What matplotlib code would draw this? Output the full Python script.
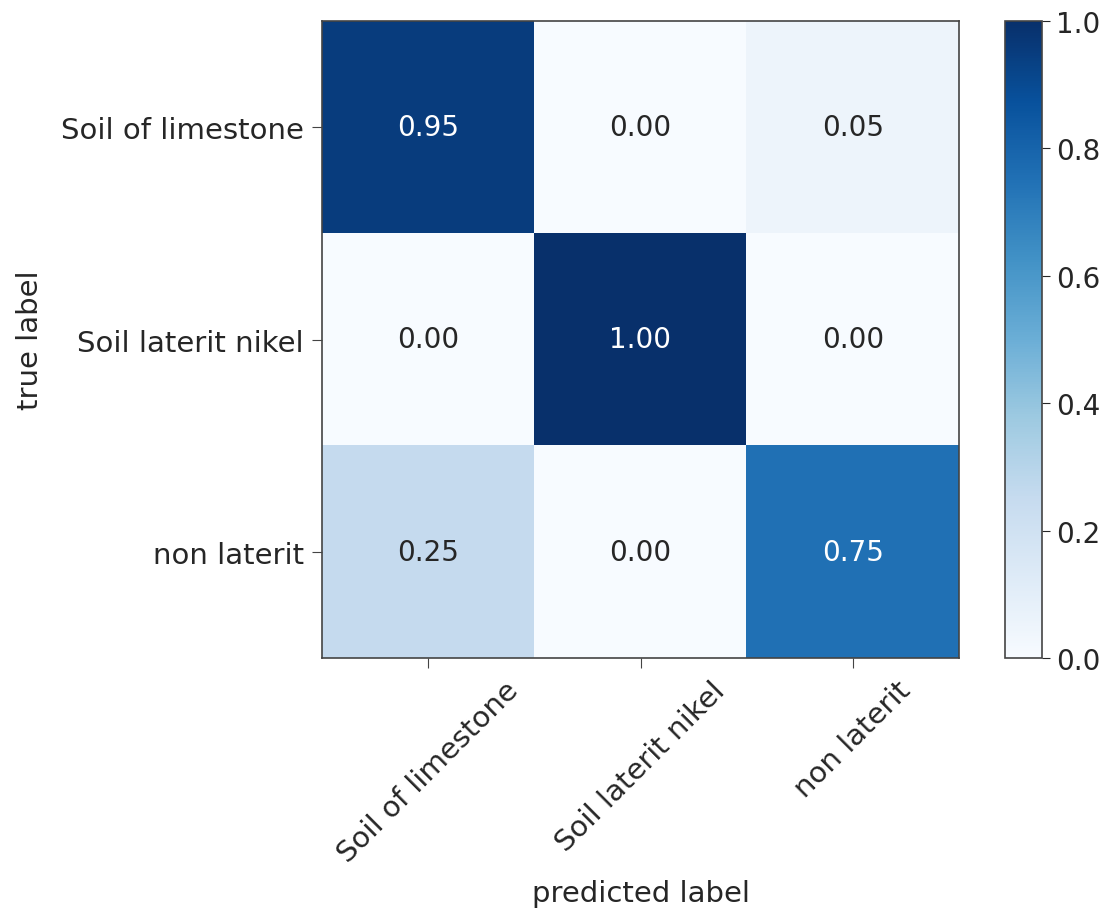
import matplotlib
matplotlib.use("Agg")
import matplotlib.pyplot as plt
import numpy as np

# confusion matrix (row-normalised)
classes = ["Soil of limestone", "Soil laterit nikel", "non laterit"]
row_limestone = [0.95, 0.00, 0.05]
row_nikel = [0.00, 1.00, 0.00]
row_non = [0.25, 0.00, 0.75]

cm = np.array([row_limestone, row_nikel, row_non])

TXT = "#262626"
EDGE = "#444444"

fig = plt.figure(figsize=(11.08, 9.12), dpi=100)
ax = fig.add_axes([322 / 1108, 1 - 659 / 912, 637 / 1108, 637 / 912])
cax = fig.add_axes([1005 / 1108, 1 - 659 / 912, 37 / 1108, 637 / 912])

im = ax.imshow(cm, interpolation="nearest", cmap=plt.cm.Blues, vmin=0, vmax=1)
cb = fig.colorbar(im, cax=cax)
cb.ax.tick_params(labelsize=20, length=6, pad=4, colors=TXT)
cb.outline.set_edgecolor(EDGE)
cb.outline.set_linewidth(1.2)

ticks = np.arange(len(classes))
ax.set_xticks(ticks)
ax.set_xticklabels(classes, rotation=45, fontsize=21, color=TXT)
ax.set_yticks(ticks)
ax.set_yticklabels(classes, fontsize=21, color=TXT)
ax.tick_params(length=7, pad=6, color=EDGE)
for sp in ax.spines.values():
    sp.set_edgecolor(EDGE)
    sp.set_linewidth(1.2)

thresh = cm.max() / 2.0
for i in range(cm.shape[0]):
    for j in range(cm.shape[1]):
        ax.text(j, i, f"{cm[i, j]:.2f}", ha="center", va="center", fontsize=20,
                color="white" if cm[i, j] > thresh else TXT)

ax.set_ylabel("true label", fontsize=21, color=TXT, labelpad=12)
ax.set_xlabel("predicted label", fontsize=21, color=TXT, labelpad=8)

fig.savefig("out.png", dpi=100)
